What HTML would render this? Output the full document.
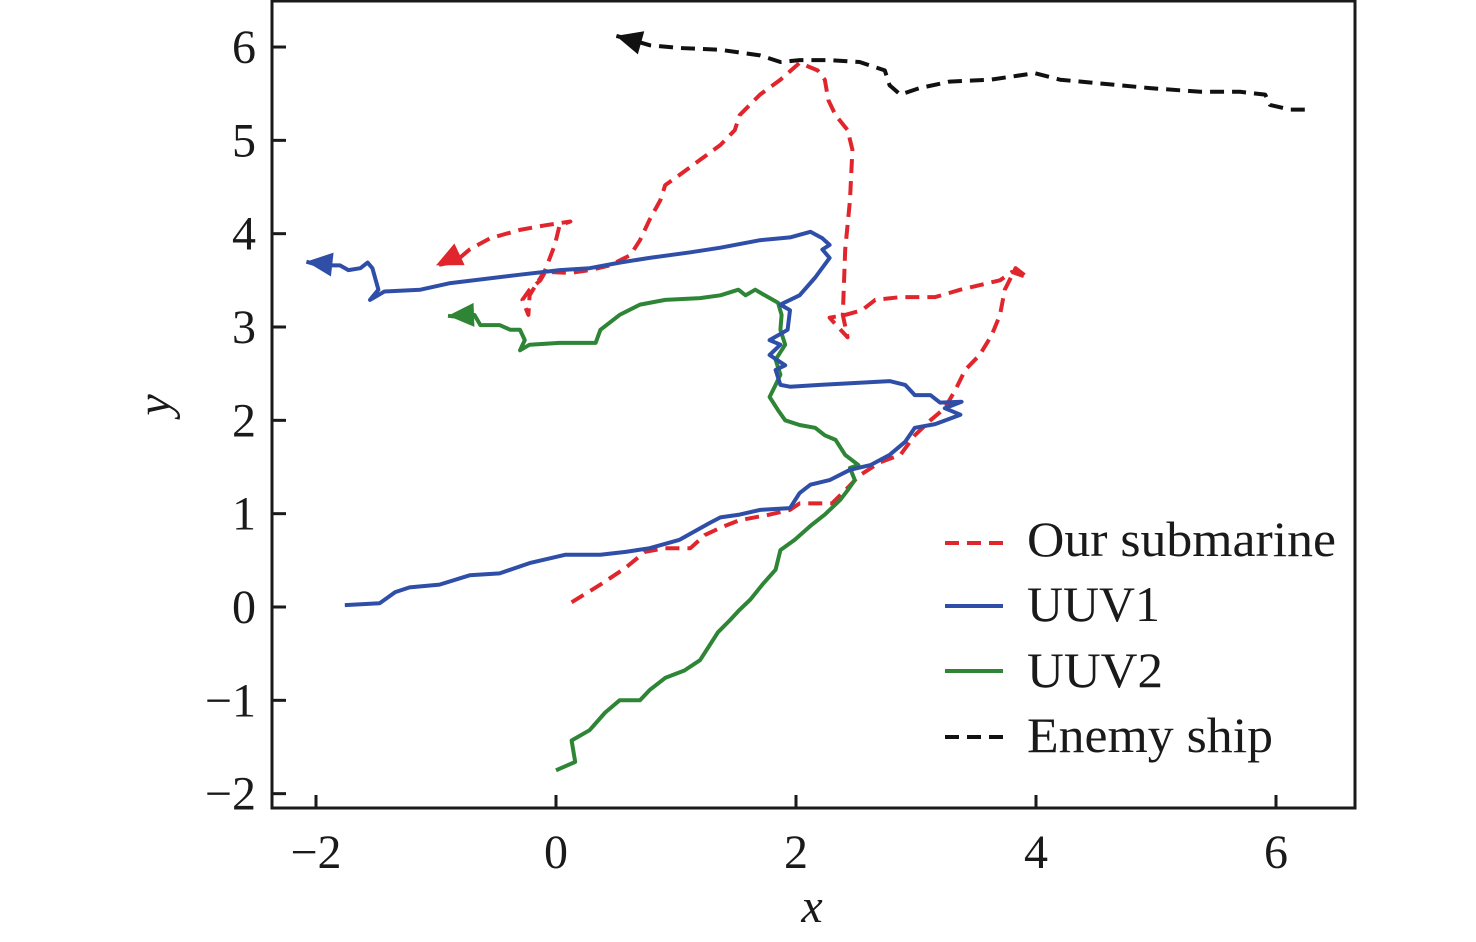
<!DOCTYPE html>
<html><head><meta charset="utf-8"><style>
html,body{margin:0;padding:0;background:#fff}
svg{display:block}
text{font-family:"Liberation Serif",serif;fill:#1a1a1a}
</style></head><body>
<svg id="chart" width="1476" height="942" viewBox="0 0 1476 942" xmlns="http://www.w3.org/2000/svg">
<g id="series"></g>
<rect x="272" y="1" width="1083" height="807" fill="none" stroke="#1a1a1a" stroke-width="3"/>
<g id="axes"></g>
<text x="812" y="922" font-size="48" font-style="italic" text-anchor="middle">x</text>
<text x="0" y="0" font-size="48" font-style="italic" text-anchor="middle" transform="translate(170,405) rotate(-90)">y</text>
<g>
<line x1="945" y1="543" x2="1003" y2="543" stroke="#e0262c" stroke-width="4" stroke-dasharray="14,8"/>
<text x="1027" y="556" font-size="50" textLength="309" lengthAdjust="spacingAndGlyphs">Our submarine</text>
<line x1="945" y1="606" x2="1003" y2="606" stroke="#2f4ea8" stroke-width="4"/>
<text x="1027" y="621" font-size="50" textLength="133" lengthAdjust="spacingAndGlyphs">UUV1</text>
<line x1="945" y1="671" x2="1003" y2="671" stroke="#2e8536" stroke-width="4"/>
<text x="1027" y="687" font-size="50" textLength="136" lengthAdjust="spacingAndGlyphs">UUV2</text>
<line x1="945" y1="737" x2="1003" y2="737" stroke="#111" stroke-width="4" stroke-dasharray="14,8"/>
<text x="1027" y="752" font-size="50" textLength="246" lengthAdjust="spacingAndGlyphs">Enemy ship</text>
</g>
</svg>
<script>
const xTicks=[-2,0,2,4,6];
const yTicks=[-2,-1,0,1,2,3,4,5,6];
const enemyX=[6.24,6.12,5.95,5.91,5.70,5.37,4.95,4.53,4.20,3.99,3.62,3.28,3.03,2.87,2.78,2.74,2.53,2.28,2.03,1.87,1.70,1.37,1.03,0.78,0.62,0.50];
const enemyY=[5.33,5.33,5.38,5.49,5.52,5.52,5.56,5.61,5.65,5.72,5.65,5.63,5.56,5.49,5.59,5.75,5.84,5.86,5.86,5.84,5.91,5.97,5.99,6.02,6.08,6.12];
const subX=[0.13,0.37,0.58,0.74,0.91,1.12,1.24,1.37,1.53,1.78,1.95,2.03,2.30,2.41,2.53,2.70,2.87,2.99,3.12,3.24,3.33,3.41,3.53,3.63,3.70,3.74,3.83,3.93,3.80,3.70,3.37,3.16,2.87,2.66,2.55,2.41,2.28,2.35,2.43,2.39,2.41,2.45,2.47,2.43,2.33,2.27,2.24,2.18,2.03,1.87,1.70,1.53,1.49,1.37,1.20,1.03,0.91,0.87,0.78,0.70,0.62,0.45,0.28,0.12,-0.09,-0.13,-0.22,-0.28,-0.23,-0.22,-0.09,-0.01,0.03,0.12,-0.09,-0.30,-0.55,-0.72,-0.84,-1.00];
const subY=[0.05,0.24,0.42,0.59,0.63,0.63,0.77,0.85,0.93,0.99,1.04,1.11,1.11,1.25,1.41,1.55,1.63,1.84,2.00,2.13,2.33,2.54,2.70,2.91,3.13,3.40,3.63,3.53,3.59,3.50,3.40,3.32,3.32,3.29,3.18,3.13,3.10,3.00,2.89,3.13,3.83,4.36,4.90,5.11,5.27,5.43,5.65,5.75,5.83,5.65,5.49,5.27,5.11,4.95,4.79,4.63,4.52,4.36,4.15,3.93,3.77,3.66,3.61,3.58,3.59,3.50,3.40,3.29,3.13,3.34,3.61,3.88,4.09,4.13,4.09,4.04,3.95,3.83,3.70,3.66];
const uuv1X=[-1.76,-1.47,-1.34,-1.22,-0.97,-0.72,-0.47,-0.22,0.08,0.37,0.58,0.78,1.03,1.28,1.37,1.53,1.70,1.95,2.03,2.12,2.28,2.45,2.62,2.78,2.91,2.99,3.16,3.37,3.24,3.38,3.20,3.12,2.99,2.91,2.78,2.20,1.95,1.87,1.83,1.91,1.78,1.87,1.78,1.93,1.95,1.87,2.03,2.16,2.28,2.22,2.28,2.22,2.12,1.95,1.70,1.37,1.12,0.78,0.53,0.28,0.03,-0.30,-0.88,-1.13,-1.43,-1.55,-1.48,-1.53,-1.57,-1.63,-1.73,-1.80,-1.97,-2.08];
const uuv1Y=[0.02,0.04,0.16,0.21,0.24,0.34,0.36,0.47,0.56,0.56,0.59,0.63,0.72,0.90,0.96,0.99,1.04,1.06,1.22,1.31,1.36,1.47,1.52,1.63,1.77,1.92,1.96,2.06,2.13,2.20,2.19,2.27,2.27,2.38,2.42,2.38,2.36,2.38,2.54,2.59,2.70,2.81,2.86,2.97,3.18,3.24,3.34,3.53,3.74,3.83,3.88,3.95,4.02,3.96,3.93,3.85,3.80,3.74,3.69,3.63,3.61,3.56,3.47,3.40,3.38,3.29,3.40,3.63,3.69,3.63,3.61,3.66,3.66,3.70];
const uuv2X=[0.00,0.16,0.13,0.28,0.41,0.53,0.70,0.78,0.91,1.07,1.20,1.28,1.35,1.45,1.53,1.62,1.72,1.83,1.87,1.99,2.13,2.24,2.37,2.43,2.49,2.45,2.52,2.41,2.33,2.24,2.16,2.03,1.91,1.85,1.78,1.83,1.87,1.83,1.91,1.87,1.88,1.85,1.74,1.66,1.58,1.52,1.37,1.20,0.91,0.70,0.53,0.37,0.33,0.03,-0.22,-0.30,-0.26,-0.30,-0.38,-0.47,-0.63,-0.68,-0.76,-0.90];
const uuv2Y=[-1.75,-1.66,-1.43,-1.32,-1.13,-1.00,-1.00,-0.89,-0.76,-0.68,-0.57,-0.41,-0.27,-0.14,-0.03,0.08,0.24,0.40,0.61,0.72,0.88,0.99,1.15,1.25,1.36,1.49,1.52,1.63,1.79,1.84,1.92,1.95,2.00,2.11,2.25,2.38,2.49,2.65,2.81,2.97,3.13,3.26,3.34,3.40,3.34,3.40,3.34,3.31,3.29,3.24,3.13,2.97,2.83,2.83,2.81,2.75,2.86,2.97,2.97,3.02,3.02,3.13,3.10,3.12];

const NS='http://www.w3.org/2000/svg';
function sx(v){return 556+120*v;}
function sy(v){return 607-93.33*v;}
const axes=document.getElementById('axes');
const series=document.getElementById('series');
function mk(tag,attrs,parent){const e=document.createElementNS(NS,tag);for(const k in attrs)e.setAttribute(k,attrs[k]);parent.appendChild(e);return e;}
xTicks.forEach(t=>{
  const l=mk('line',{x1:sx(t),x2:sx(t),y1:808,y2:795,stroke:'#1a1a1a','stroke-width':3},axes);
  
  
  const tx=mk('text',{x:sx(t),y:868,'font-size':48,'text-anchor':'middle'},axes);
  tx.textContent=t<0?'\u2212'+Math.abs(t):String(t);
  
  
});
yTicks.forEach(t=>{
  const l=mk('line',{x1:272,x2:286,y1:sy(t),y2:sy(t),stroke:'#1a1a1a','stroke-width':3},axes);
  
  
  const tx=mk('text',{x:256,y:sy(t)+16,'font-size':48,'text-anchor':'end'},axes);
  tx.textContent=t<0?'\u2212'+Math.abs(t):String(t);
  
  
});
function draw(xs,ys,color,dash,name){
  const pts=xs.map((x,i)=>sx(x).toFixed(1)+','+sy(ys[i]).toFixed(1)).join(' ');
  const a={points:pts,fill:'none',stroke:color,'stroke-width':4,'stroke-linejoin':'round'};
  if(dash)a['stroke-dasharray']=dash;
  const p=mk('polyline',a,series);
  
  
  const n=xs.length;
  const x1=sx(xs[n-1]),y1=sy(ys[n-1]),x0=sx(xs[n-3]),y0=sy(ys[n-3]);
  const ang=Math.atan2(y1-y0,x1-x0);
  const L=26,W=12;
  const bx=x1-L*Math.cos(ang),by=y1-L*Math.sin(ang);
  const px=-Math.sin(ang)*W,py=Math.cos(ang)*W;
  const tri=mk('polygon',{points:`${x1},${y1} ${bx+px},${by+py} ${bx-px},${by-py}`,fill:color},series);
  
  
}
draw(enemyX,enemyY,'#111','14,8','enemy-ship');
draw(subX,subY,'#e0262c','14,8','our-submarine');
draw(uuv2X,uuv2Y,'#2e8536',null,'uuv2');
draw(uuv1X,uuv1Y,'#2f4ea8',null,'uuv1');
</script>
</body></html>
